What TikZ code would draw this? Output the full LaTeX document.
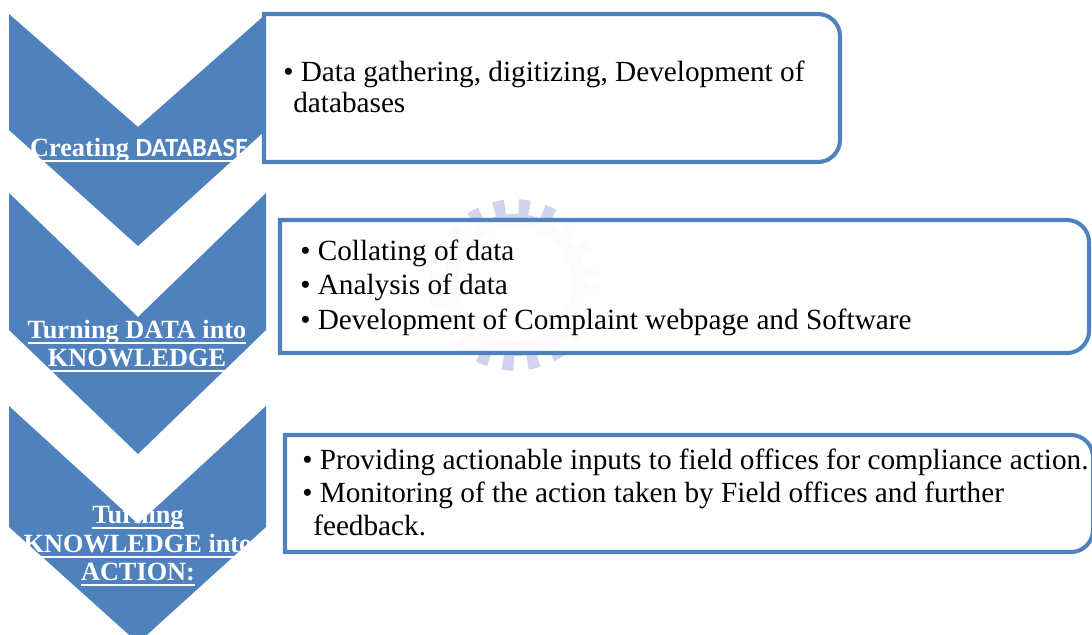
\documentclass[tikz,border=0pt]{standalone}
\usepackage{fontspec}
\setmainfont{Liberation Serif}
\newfontfamily\calibrifont{Carlito}
\usetikzlibrary{calc}
\definecolor{ChevBlue}{RGB}{79,129,189}
\definecolor{GearBlue}{RGB}{208,211,238}

\newlength\ulwd
\newcommand{\ulword}[1]{\settowidth{\ulwd}{#1}\rlap{\rule[-4.3pt]{\ulwd}{1.4pt}}#1}

\begin{document}
\begin{tikzpicture}[
            x=0.025cm, y=-0.025cm,
            chevron/.style={fill=ChevBlue, draw=none},
            infobox/.style={draw=ChevBlue, line width=2.9pt, fill=white, fill opacity=0.93, draw opacity=1},
            chevtext/.style={text=white, font=\fontsize{18.7}{20}\selectfont\bfseries, anchor=base, inner sep=0pt},
            bullettext/.style={font=\fontsize{20.8}{24}\selectfont, anchor=base west, inner sep=0pt},
        ]
        \clip (0,0) rectangle (1092,634);

        % ===== watermark gear =====
        \draw[GearBlue, line width=11pt, dash pattern=on 7.8pt off 9.8pt] (515,285) circle (78);
        \draw[GearBlue, line width=10pt] (515,285) circle (64);

        % ===== chevrons =====
        \fill[chevron] (9,14) -- (138,127) -- (266,14) -- (266,130) -- (138,246) -- (9,130) -- cycle;
        \fill[chevron] (9,193) -- (138,317) -- (266,193) -- (266,330) -- (138,454) -- (9,330) -- cycle;
        \fill[chevron] (9,406) -- (138,524) -- (266,406) -- (266,527) -- (138,643) -- (9,527) -- cycle;

        % ===== boxes (rounded on the right) =====
        \filldraw[infobox] (264,162) -- (264,14) -- (818,14) arc[start angle=-90, end angle=0, radius=22]
            -- (840,140) arc[start angle=0, end angle=90, radius=22] -- cycle;
        \filldraw[infobox] (280,353) -- (280,220) -- (1067,220) arc[start angle=-90, end angle=0, radius=22]
            -- (1089,331) arc[start angle=0, end angle=90, radius=22] -- cycle;
        \filldraw[infobox] (285,552) -- (285,435) -- (1071,435) arc[start angle=-90, end angle=0, radius=22]
            -- (1093,530) arc[start angle=0, end angle=90, radius=22] -- cycle;

        % ===== chevron labels =====
        \node[chevtext] (create) at (139,156) {\ulword{Creating {\calibrifont DATABASE}}};
        \node[chevtext] (turnA) at (137,338) {\ulword{Turning DATA into}};
        \node[chevtext] (turnB) at (137,366) {\ulword{KNOWLEDGE}};
        \node[chevtext] (actA) at (138,523) {\ulword{Turning}};
        \node[chevtext] (actB) at (138,552) {\ulword{KNOWLEDGE into}};
        \node[chevtext] (actC) at (138,580) {\ulword{ACTION:}};

        % ===== box texts =====
        \node[bullettext] (gather) at (283,81) {\textbullet\ Data gathering, digitizing, Development of};
        \node[bullettext] (dbases) at (293,112) {databases};

        \node[bullettext] (collate) at (300,260) {\textbullet\ Collating of data};
        \node[bullettext] (analyse) at (300,294) {\textbullet\ Analysis of data};
        \node[bullettext] (webpage) at (300,329) {\textbullet\ Development of Complaint webpage and Software};

        \node[bullettext] (inputs) at (302,469) {\textbullet\ Providing actionable inputs to field offices for compliance action.};
        \node[bullettext] (monitor) at (302,502) {\textbullet\ Monitoring of the action taken by Field offices and further};
        \node[bullettext] (feedback) at (313,535) {feedback.};
        \end{tikzpicture}
\end{document}
